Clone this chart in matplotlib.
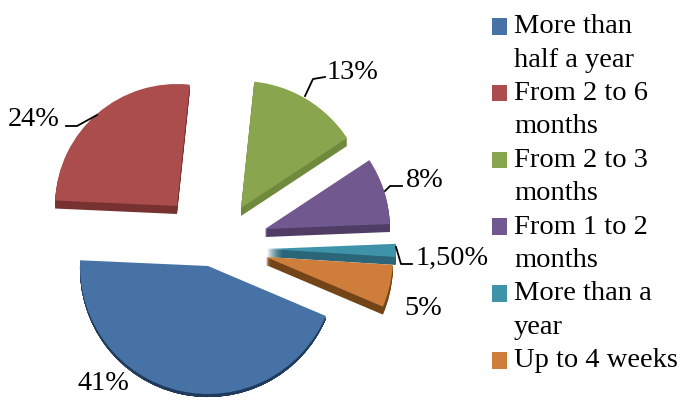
import matplotlib
matplotlib.use("Agg")
import matplotlib.pyplot as plt
from matplotlib.patches import Patch

plt.rcParams["font.family"] = ["Liberation Serif", "DejaVu Serif"]

# data
categories = [
    "More than\nhalf a year",
    "From 2 to 6\nmonths",
    "From 2 to 3\nmonths",
    "From 1 to 2\nmonths",
    "More than a\nyear",
    "Up to 4 weeks",
]
values = [41, 24, 13, 8, 1.5, 5]
value_labels = ["41%", "24%", "13%", "8%", "1,50%", "5%"]

# style
top_colors = ["#4672a5", "#aa4d4c", "#89a54e", "#71588f", "#3f93a8", "#cf7d3b"]
side_colors = ["#1f3a5c", "#773130", "#6f8a3c", "#4f3d66", "#2b6678", "#744419"]
depths = [3, 8, 8, 8, 8, 8]
radii = [128, 122, 127, 125, 129, 127]
centre = (203, 156)
shifts = [(5, -17), (-26, 43), (38, 41), (62, 20), (64, 0), (63, -8)]
label_pos = [(77, 16), (8, 280), (327, 327), (406, 219), (416, 141), (404, 91)]
leaders = [
    None,
    [(97, 290), (77, 279), (66, 279)],
    [(305, 309), (313, 326), (325, 328)],
    [(385, 214), (390, 219), (402, 219)],
    [(396, 158), (401, 141), (412, 141)],
    None,
]

fig = plt.figure(figsize=(6.84, 4.06), dpi=100)
ax = fig.add_axes([0, 0, 1, 1])


def draw_pie(colors, drop):
    wedges, _ = ax.pie(
        values,
        colors=colors,
        center=centre,
        radius=127,
        startangle=-23,
        counterclock=False,
        normalize=True,
        frame=True,
    )
    for i, w in enumerate(wedges):
        dx, dy = shifts[i]
        w.set_center((centre[0] + dx, centre[1] + dy - min(drop, depths[i])))
        w.set_radius(radii[i])
    return wedges


# side of the slices, stacked from the bottom up
for drop in range(8, 0, -1):
    draw_pie(side_colors, drop)
wedges = draw_pie(top_colors, 0)

for text, pos in zip(value_labels, label_pos):
    ax.text(pos[0], pos[1], text, fontsize=20.3, color="k", va="baseline")

for line in leaders:
    if line:
        ax.plot([p[0] for p in line], [p[1] for p in line], color="k", lw=1.3)

# one legend row per text line, so the swatch sits on the first line
handles, labels = [], []
for wedge, name in zip(wedges, categories):
    for n, part in enumerate(name.split("\n")):
        handles.append(wedge if n == 0 else Patch(visible=False))
        labels.append(part)

leg = ax.legend(
    handles,
    labels,
    loc="upper left",
    bbox_to_anchor=(0.7193, 0.965),
    frameon=False,
    fontsize=20.5,
    labelspacing=0.295,
    handlelength=0.526,
    handleheight=0.526,
    handletextpad=0.25,
    borderpad=0,
    borderaxespad=0,
)
for h in leg.legend_handles:
    h.set_y(h.get_y() - 3)

ax.set_xlim(0, 684)
ax.set_ylim(0, 406)
ax.set_aspect("equal")
ax.axis("off")

fig.savefig("out.png", dpi=100)
